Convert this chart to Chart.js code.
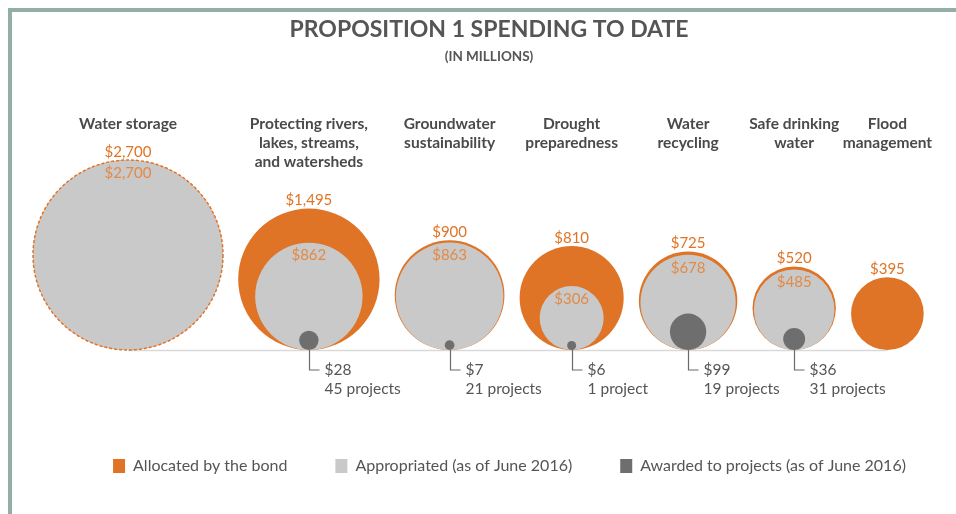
<!DOCTYPE html>
<html>
<head>
<meta charset="utf-8">
<script src="https://cdn.jsdelivr.net/npm/chart.js@4.4.1/dist/chart.umd.min.js"></script>
<style>
  html, body { margin: 0; padding: 0; background: #fff; }
  #wrap { position: relative; width: 956px; height: 514px; overflow: hidden; }
  .frame { position: absolute; background: #93aea6; }
  #frameTop { left: 8px; top: 8px; width: 948px; height: 4px; }
  #frameLeft { left: 8px; top: 8px; width: 4px; height: 506px; }
  canvas { position: absolute; left: 0; top: 0; }
</style>
</head>
<body>
<div id="wrap">
  <div class="frame" id="frameTop"></div>
  <div class="frame" id="frameLeft"></div>
  <canvas id="chart" width="956" height="514"></canvas>
</div>
<script>
"use strict";

// --- data (millions of dollars) ---
var categories = [
    ["Water storage"],
    ["Protecting rivers,", "lakes, streams,", "and watersheds"],
    ["Groundwater", "sustainability"],
    ["Drought", "preparedness"],
    ["Water", "recycling"],
    ["Safe drinking", "water"],
    ["Flood", "management"]
];
var allocated =    [2700, 1495, 900, 810, 725, 520, 395];
var appropriated = [2700,  862, 863, 306, 678, 485, null];
var awarded =      [null,   28,   7,   6,  99,  36, null];
var projects =     [null,   45,  21,   1,  19,  31, null];

var ORANGE = "#e07426";
var LIGHT = "#c9c9c9";
var DARK = "#6e6e6e";
var TEXT = "#555555";
var FONT = "Lato, 'Open Sans', sans-serif";

// circles are packed side by side; units are sqrt($M), so area follows the value
var GAP = 8.3;
var centers = [];
var cursor = 0;
allocated.forEach(function(v) {
    var r = Math.sqrt(v);
    centers.push(cursor + r);
    cursor += 2 * r + GAP;
});

function points(values) {
    var out = [];
    values.forEach(function(v, i) {
        if (v === null) return;
        // every circle sits on the baseline (y = 0), so its centre is one radius up
        out.push({x: centers[i], y: Math.sqrt(v), v: v, i: i});
    });
    return out;
}

function money(v) {
    return "$" + v.toLocaleString("en-US");
}

var baselinePlugin = {
    id: "baseline",
    beforeDatasetsDraw: function(chart) {
        var ctx = chart.ctx;
        var x = chart.scales.x, y = chart.scales.y;
        var y0 = Math.round(y.getPixelForValue(0)) + 0.5;
        ctx.save();
        ctx.strokeStyle = "#d9d9d9";
        ctx.lineWidth = 1.5;
        ctx.beginPath();
        ctx.moveTo(x.getPixelForValue(centers[0]), y0);
        ctx.lineTo(x.getPixelForValue(centers[centers.length - 1]), y0);
        ctx.stroke();
        ctx.restore();
    }
};

var labelPlugin = {
    id: "bubbleLabels",
    afterDatasetsDraw: function(chart) {
        var ctx = chart.ctx;
        var area = chart.chartArea;
        var allocMeta = chart.getDatasetMeta(0);
        var apprMeta = chart.getDatasetMeta(1);
        var awardMeta = chart.getDatasetMeta(2);
        var y0 = chart.scales.y.getPixelForValue(0);

        ctx.save();
        ctx.textAlign = "center";
        ctx.textBaseline = "middle";

        // category names above the row
        ctx.fillStyle = "#4a4a4a";
        ctx.font = "bold 15.5px " + FONT;
        allocMeta.data.forEach(function(el, n) {
            var i = chart.data.datasets[0].data[n].i;
            categories[i].forEach(function(line, j) {
                ctx.fillText(line, el.x, area.top - 36 + j * 19);
            });
        });

        // allocated values above each outer circle
        ctx.fillStyle = ORANGE;
        ctx.font = "15px " + FONT;
        allocMeta.data.forEach(function(el, n) {
            var raw = chart.data.datasets[0].data[n];
            ctx.fillText(money(raw.v), el.x, el.y - el.options.radius - 8);
        });

        // appropriated values just inside the top of the grey circle
        ctx.fillStyle = "#e28a48";
        apprMeta.data.forEach(function(el, n) {
            var raw = chart.data.datasets[1].data[n];
            // fully appropriated: show the outline of the allocation as a dotted ring
            if (raw.v === allocated[raw.i]) {
                ctx.save();
                ctx.strokeStyle = ORANGE;
                ctx.lineWidth = 1.5;
                ctx.setLineDash([3, 2]);
                ctx.beginPath();
                ctx.arc(el.x, el.y, el.options.radius, 0, Math.PI * 2);
                ctx.stroke();
                ctx.restore();
            }
            ctx.fillText(money(raw.v), el.x, el.y - el.options.radius + 13);
        });

        // awarded: leader line and labels below the baseline
        ctx.textAlign = "left";
        ctx.fillStyle = TEXT;
        ctx.strokeStyle = "#6a6a6a";
        ctx.lineWidth = 1.2;
        ctx.font = "15.5px " + FONT;
        awardMeta.data.forEach(function(el, n) {
            var raw = chart.data.datasets[2].data[n];
            var lx = Math.round(el.x) + 0.5;
            ctx.beginPath();
            ctx.moveTo(lx, y0);
            ctx.lineTo(lx, y0 + 20);
            ctx.lineTo(lx + 10, y0 + 20);
            ctx.stroke();
            ctx.fillText(money(raw.v), lx + 15, y0 + 20);
            var p = projects[raw.i];
            ctx.fillText(p + (p === 1 ? " project" : " projects"), lx + 15, y0 + 39);
        });
        ctx.restore();
    }
};

var chart = new Chart(document.getElementById("chart"), {
    type: "bubble",
    data: {
        datasets: [{
            label: "Allocated by the bond",
            data: points(allocated),
            backgroundColor: ORANGE,
            borderWidth: 0,
            order: 3
        }, {
            label: "Appropriated (as of June 2016)",
            data: points(appropriated),
            backgroundColor: LIGHT,
            borderWidth: 0,
            order: 2
        }, {
            label: "Awarded to projects (as of June 2016)",
            data: points(awarded),
            backgroundColor: DARK,
            borderWidth: 0,
            order: 1
        }]
    },
    options: {
        responsive: false,
        animation: false,
        events: [],
        clip: false,
        layout: {
            autoPadding: false,
            padding: {left: 63, right: 0, top: 0, bottom: 30}
        },
        scales: {
            x: {
                type: "linear",
                display: false,
                min: 16.41,
                max: 482.41
            },
            y: {
                type: "linear",
                position: "right",
                min: -32.82,
                max: 103.92,
                grid: {display: false},
                border: {display: false},
                ticks: {display: false},
                afterFit: function(scale) { scale.width = 41; }
            }
        },
        plugins: {
            title: {
                display: true,
                fullSize: false,
                text: "PROPOSITION 1 SPENDING TO DATE",
                color: "#555555",
                font: {family: FONT, size: 23, weight: "bold"},
                padding: {top: 16, bottom: 0}
            },
            subtitle: {
                display: true,
                fullSize: false,
                text: "(IN MILLIONS)",
                color: "#555555",
                font: {family: FONT, size: 13.5, weight: "bold"},
                padding: {top: 5.3, bottom: 94.9}
            },
            legend: {
                position: "bottom",
                labels: {
                    sort: function(a, b) { return a.datasetIndex - b.datasetIndex; },
                    boxWidth: 12,
                    boxHeight: 14,
                    padding: 48,
                    color: TEXT,
                    font: {family: FONT, size: 16}
                }
            },
            tooltip: {enabled: false}
        }
    },
    plugins: [baselinePlugin, labelPlugin]
});

// bubble r is in pixels: read the y scale once it is laid out, so each
// circle's radius matches its centre height and it rests on the baseline
var yScale = chart.scales.y;
var perUnit = yScale.getPixelForValue(0) - yScale.getPixelForValue(1);
chart.data.datasets.forEach(function(ds) {
    ds.data.forEach(function(p) { p.r = Math.sqrt(p.v) * perUnit; });
});
chart.update();
</script>
</body>
</html>
